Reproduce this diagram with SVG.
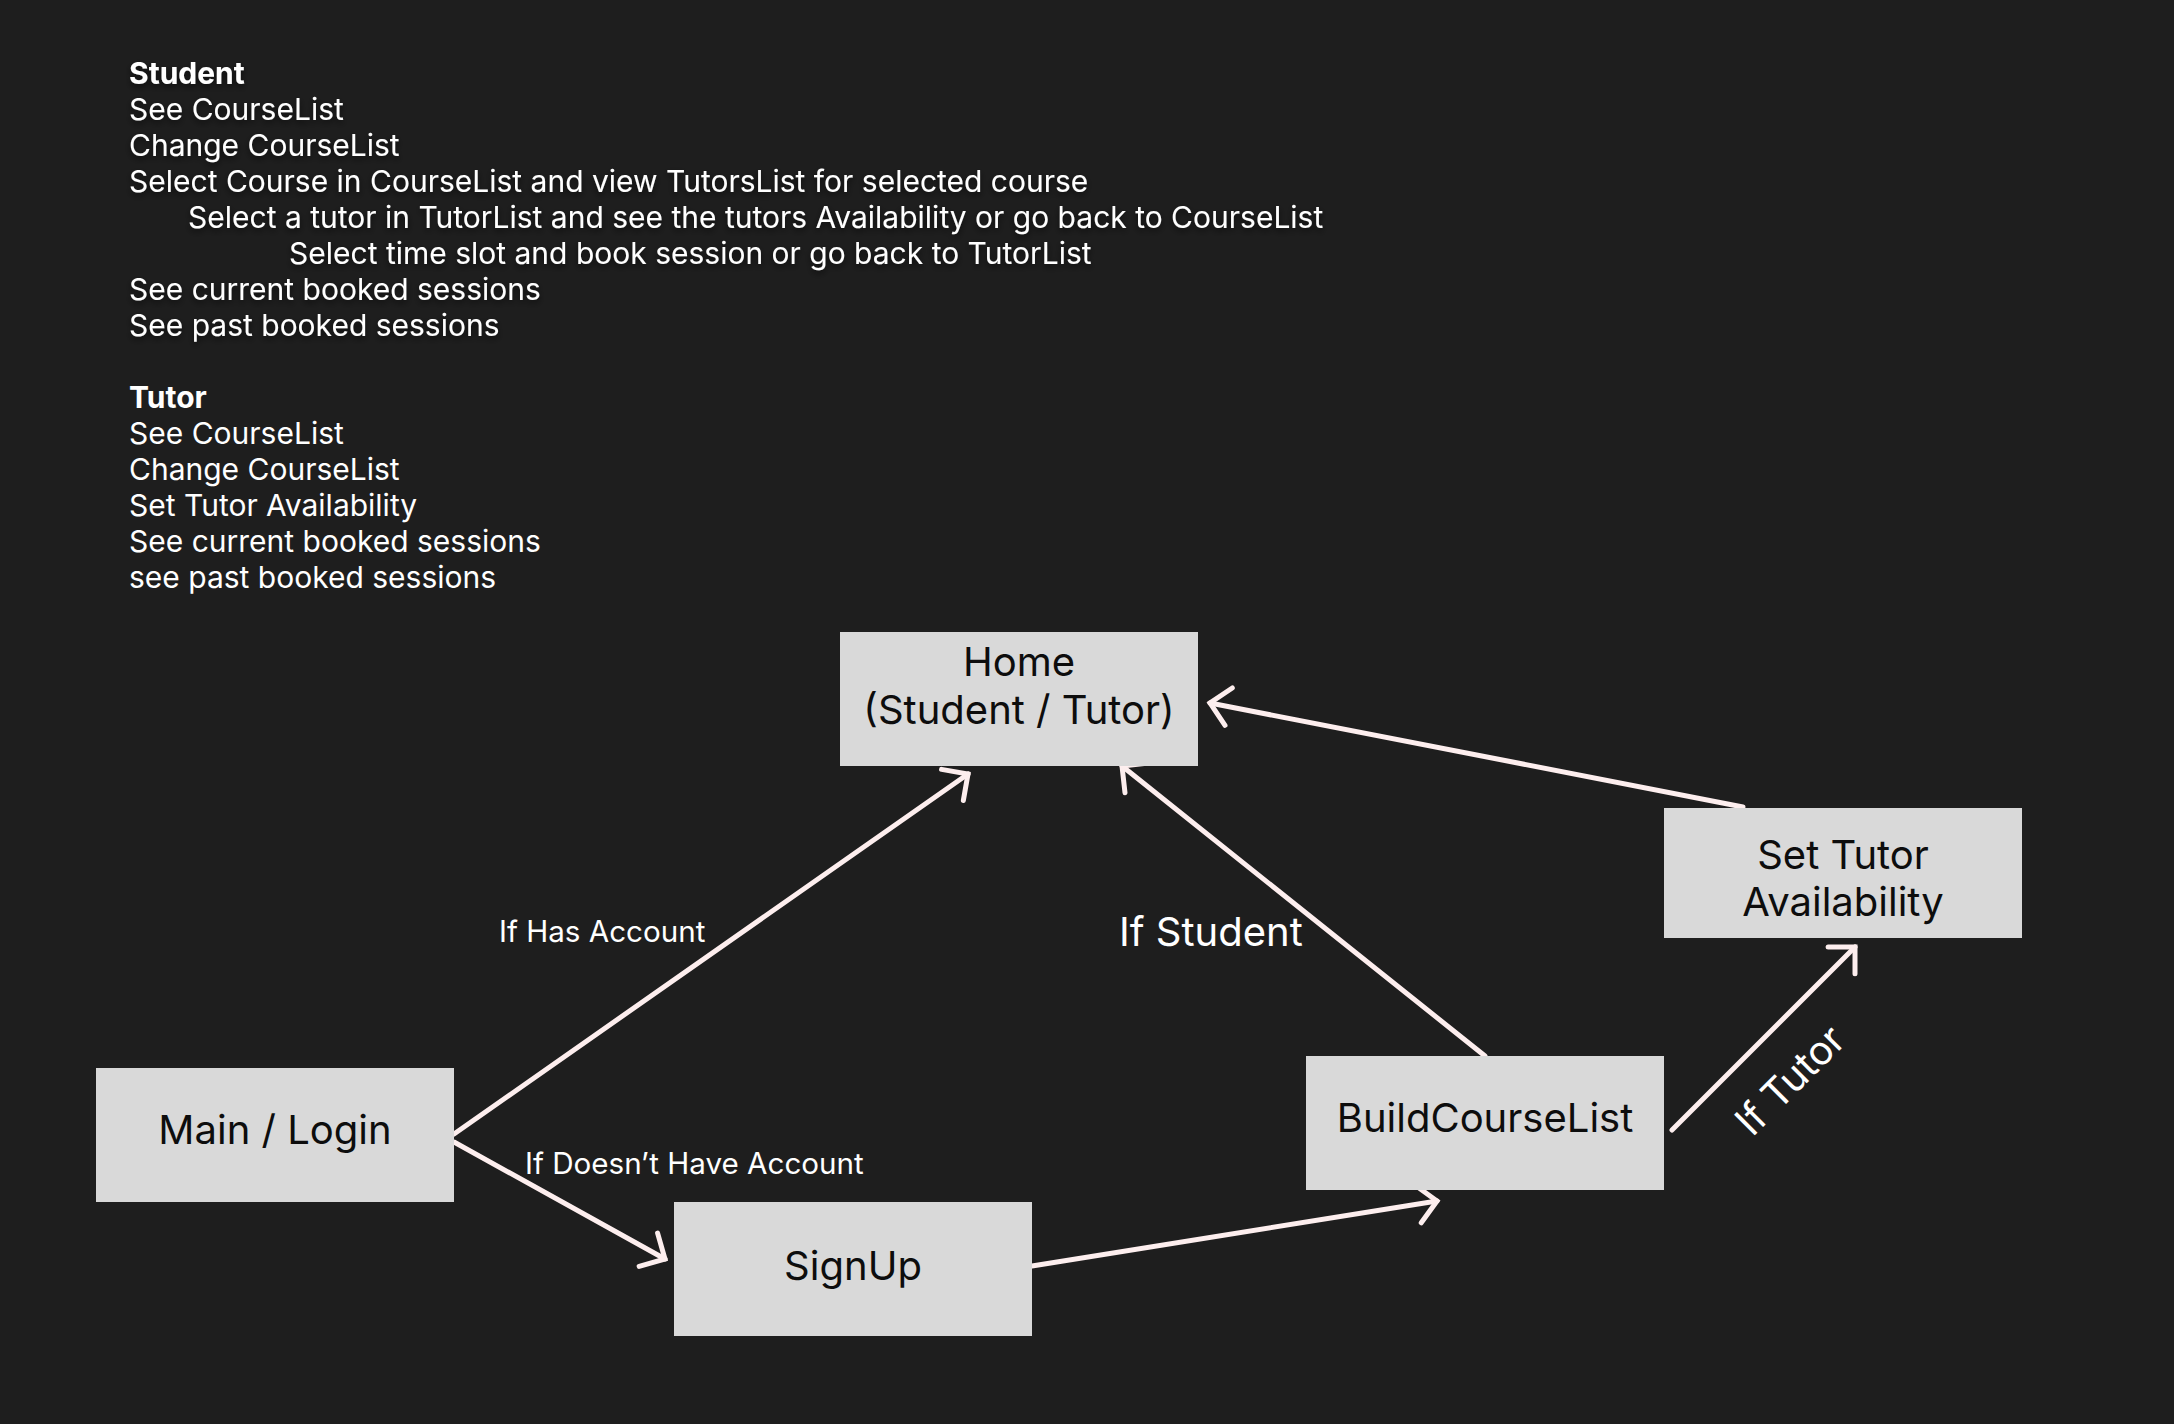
<svg xmlns="http://www.w3.org/2000/svg" width="2174" height="1424" viewBox="0 0 2174 1424">
  <style>
    .notes { font-family: Inter, "Noto Sans", "Liberation Sans", sans-serif; font-size: 30px; fill: #ffffff; }
    .notes .head { font-weight: 700; }
    .node rect { fill: #d9d9d9; }
    .node text { font-family: Inter, "Noto Sans", "Liberation Sans", sans-serif; font-size: 40px; fill: #0d0d0d; text-anchor: middle; }
    .edge { fill: none; stroke: #fdeeee; stroke-width: 5; stroke-linecap: round; marker-end: url(#chevron); }
    .label { font-family: Inter, "Noto Sans", "Liberation Sans", sans-serif; fill: #ffffff; }
  </style>
  <defs>
    <marker id="chevron" markerUnits="userSpaceOnUse" orient="auto" refX="0" refY="0" markerWidth="60" markerHeight="60" overflow="visible">
      <path d="M -19,-19 L 0,0 L -19,19" fill="none" stroke="#fdeeee" stroke-width="5" stroke-linecap="round" stroke-linejoin="miter"/>
    </marker>
    <filter id="softShadow" x="-10%" y="-20%" width="120%" height="140%">
      <feDropShadow dx="0" dy="3" stdDeviation="3" flood-color="#000000" flood-opacity="0.6"/>
    </filter>
  </defs>

  <rect width="2174" height="1424" fill="#1e1e1e"/>

  <!-- role notes -->
  <g id="notes-student" class="notes" filter="url(#softShadow)">
    <text class="head" x="129" y="84">Student</text>
    <text x="129" y="120">See CourseList</text>
    <text x="129" y="156">Change CourseList</text>
    <text x="129" y="192">Select Course in CourseList and view TutorsList for selected course</text>
    <text x="188" y="228">Select a tutor in TutorList and see the tutors Availability or go back to CourseList</text>
    <text x="289" y="264">Select time slot and book session or go back to TutorList</text>
    <text x="129" y="300">See current booked sessions</text>
    <text x="129" y="336">See past booked sessions</text>
  </g>
  <g id="notes-tutor" class="notes">
    <text class="head" x="129" y="408">Tutor</text>
    <text x="129" y="444">See CourseList</text>
    <text x="129" y="480">Change CourseList</text>
    <text x="129" y="516">Set Tutor Availability</text>
    <text x="129" y="552">See current booked sessions</text>
    <text x="129" y="588">see past booked sessions</text>
  </g>

  <!-- connectors -->
  <g id="connectors">
    <path class="edge" d="M 454,1134 L 968,774"/>
    <path class="edge" d="M 454,1142 L 665,1259"/>
    <path class="edge" d="M 1032,1266 L 1437,1201"/>
    <path class="edge" d="M 1485,1056 L 1122,766"/>
    <path class="edge" d="M 1743,807 L 1210,703"/>
    <path class="edge" d="M 1672,1130 L 1855,947"/>
    <text class="label" x="499" y="942" font-size="29.6">If Has Account</text>
    <text class="label" x="525" y="1174" font-size="29.6">If Doesn’t Have Account</text>
    <text class="label" x="1119" y="946" font-size="40">If Student</text>
    <text class="label" font-size="40" text-anchor="middle" transform="translate(1800,1090) rotate(-45)">If Tutor</text>
  </g>

  <!-- screens -->
  <g id="node-home" class="node">
    <rect x="840" y="632" width="358" height="134"/>
    <text x="1019" y="676">Home</text>
    <text x="1019" y="724">(Student / Tutor)</text>
  </g>
  <g id="node-set-tutor-availability" class="node">
    <rect x="1664" y="808" width="358" height="130"/>
    <text x="1843" y="869">Set Tutor</text>
    <text x="1843" y="916">Availability</text>
  </g>
  <g id="node-main-login" class="node">
    <rect x="96" y="1068" width="358" height="134"/>
    <text x="275" y="1144">Main / Login</text>
  </g>
  <g id="node-signup" class="node">
    <rect x="674" y="1202" width="358" height="134"/>
    <text x="853" y="1280">SignUp</text>
  </g>
  <g id="node-build-course-list" class="node">
    <rect x="1306" y="1056" width="358" height="134"/>
    <text x="1485" y="1132">BuildCourseList</text>
  </g>
</svg>
